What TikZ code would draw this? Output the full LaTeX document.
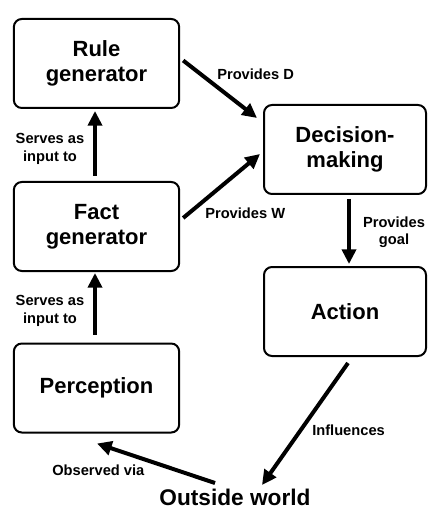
\documentclass[tikz,border=0pt]{standalone}
\usepackage{fontspec}
\setmainfont{Liberation Sans}
\usetikzlibrary{arrows.meta,calc}
\begin{document}
\begin{tikzpicture}[x=0.75pt,y=-0.75pt,
  box/.style={draw, line width=1.5pt, rounded corners=6pt, inner sep=0pt,
    minimum width=124pt, minimum height=66.75pt, align=center,
    font=\bfseries\fontsize{16.5}{18.75}\selectfont},
  rbox/.style={box, minimum width=121.5pt},
  lab/.style={inner sep=0pt, align=center, font=\bfseries\fontsize{11}{13}\selectfont},
  world/.style={inner sep=0pt, font=\bfseries\fontsize{17}{20}\selectfont},
  arr/.style={line width=3pt, -{Triangle[length=11pt,width=10.5pt]}}]
\useasboundingbox (0,0) rectangle (428,509);

\node[box] (rule) at (96.5,63.5) {Rule\\generator};
\node[box] (fact) at (96.5,226.5) {Fact\\generator};
\node[box] (perc) at (96.5,388) {Perception};
\node[rbox] (dec) at (345,149.5) {Decision-\\making};
\node[rbox] (act) at (345,311.5) {Action};
\node[world] (world) at (235,497) {Outside world};

\draw[arr] ($(rule.east)+(3,-3)$) -- ($(dec.north west)+(-6,14)$);
\draw[arr] ($(fact.north)+(-1.5,-5)$) -- ($(rule.south)+(-1.5,2)$);
\draw[arr] ($(fact.east)+(3,-8.5)$) -- ($(dec.west)+(-3,4.5)$);
\draw[arr] ($(dec.south)+(4,4)$) -- ($(act.north)+(4,-2)$);
\draw[arr] ($(perc.north)+(-1.5,-8)$) -- ($(fact.south)+(-1.5,1)$);
\draw[arr] ($(act.south)+(3,6)$) -- ($(world.center)+(27,-12)$);
\draw[arr] ($(world.center)+(-20,-14)$) -- ($(perc.south)+(0.5,10)$);

\node[lab, anchor=west] (lpd) at (217,74) {Provides D};
\node[lab] (lsi1) at (50,149) {Serves as\\input to};
\node[lab, anchor=west] (lpw) at (205,213) {Provides W};
\node[lab] (lpg) at (394,232) {Provides\\goal};
\node[lab] (lsi2) at (50,311) {Serves as\\input to};
\node[lab, anchor=west] (linf) at (312,430) {Influences};
\node[lab, anchor=west] (lobs) at (52,470) {Observed via};
\end{tikzpicture}
\end{document}
